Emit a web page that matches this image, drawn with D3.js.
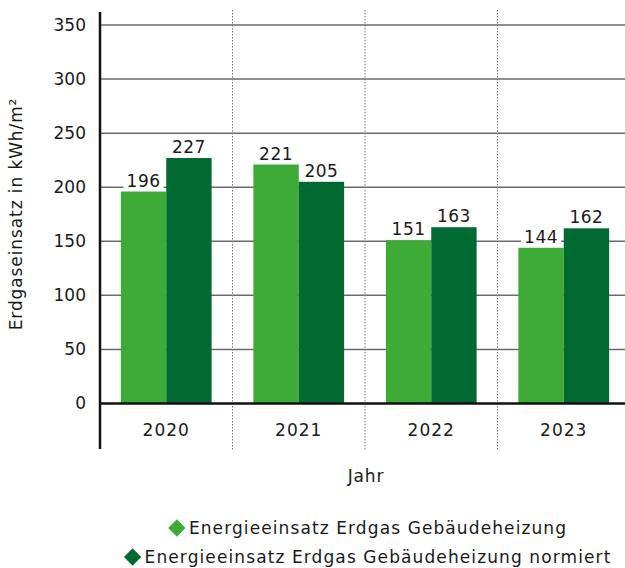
<!DOCTYPE html>
<html>
<head>
<meta charset="utf-8">
<script src="https://cdn.jsdelivr.net/npm/d3@7"></script>
<style>
  body { margin: 0; background: #fff; }
  text { font-family: "DejaVu Sans", sans-serif; fill: #1a1a1a; }
</style>
</head>
<body>
<div id="chart"></div>
<script>
const years = ["2020", "2021", "2022", "2023"];
const seriesNames = ["Energieeinsatz Erdgas Gebäudeheizung", "Energieeinsatz Erdgas Gebäudeheizung normiert"];
const gebaeudeheizung = [196, 221, 151, 144];
const normiert = [227, 205, 163, 162];
const yTicks = [0, 50, 100, 150, 200, 250, 300, 350];
const colors = ["#3dab36", "#016a31"];

const width = 625;
const height = 568;
const margin = { top: 25, right: -5, bottom: 164, left: 100 };

const svg = d3.select("#chart")
  .append("svg")
  .attr("width", width)
  .attr("height", height);

const x0 = d3.scaleBand()
  .domain(years)
  .range([margin.left, width - margin.right])
  .padding(0);

const x1 = d3.scaleBand()
  .domain([0, 1])
  .range([0, x0.bandwidth()])
  .paddingInner(0)
  .paddingOuter(0.46);

const y = d3.scaleLinear()
  .domain([0, 350])
  .range([height - margin.bottom - 0.5, margin.top]);

// gridlines
svg.append("g")
  .selectAll("line")
  .data(yTicks.filter(d => d > 0))
  .enter()
  .append("line")
  .attr("x1", margin.left)
  .attr("x2", width - margin.right)
  .attr("y1", d => y(d))
  .attr("y2", d => y(d))
  .attr("stroke", "#6b6b6b")
  .attr("stroke-width", 1.5);

// dotted separators
svg.append("g")
  .selectAll("line")
  .data(years.slice(1))
  .enter()
  .append("line")
  .attr("x1", d => x0(d))
  .attr("x2", d => x0(d))
  .attr("y1", 10)
  .attr("y2", 450)
  .attr("stroke", "#777")
  .attr("stroke-width", 1)
  .attr("stroke-dasharray", "1.5,1.5");

// bars
const data = years.map((yr, i) => ({ year: yr, values: [gebaeudeheizung[i], normiert[i]] }));
const groups = svg.append("g")
  .selectAll("g")
  .data(data)
  .enter()
  .append("g")
  .attr("transform", d => "translate(" + x0(d.year) + ",0)");

groups.selectAll("rect")
  .data(d => d.values.map((v, k) => ({ k: k, v: v })))
  .enter()
  .append("rect")
  .attr("x", d => x1(d.k))
  .attr("width", x1.bandwidth())
  .attr("y", d => y(d.v))
  .attr("height", d => y(0) - y(d.v))
  .attr("fill", d => colors[d.k]);

// value labels with white background
const labels = groups.selectAll("g.lbl")
  .data(d => d.values.map((v, k) => ({ k: k, v: v })))
  .enter()
  .append("g")
  .attr("class", "lbl")
  .attr("transform", d => "translate(" + (x1(d.k) + x1.bandwidth() / 2) + "," + (y(d.v) - 5) + ")");
labels.append("rect")
  .attr("x", -20)
  .attr("y", -18)
  .attr("width", 40)
  .attr("height", 20)
  .attr("fill", "#fff");
labels.append("text")
  .attr("text-anchor", "middle")
  .style("font-size", "17px")
  .style("letter-spacing", "0.5px")
  .text(d => d.v);

// zero baseline
svg.append("line")
  .attr("x1", margin.left)
  .attr("x2", width - margin.right)
  .attr("y1", y(0))
  .attr("y2", y(0))
  .attr("stroke", "#111")
  .attr("stroke-width", 2.5);

// y axis line
svg.append("line")
  .attr("x1", margin.left)
  .attr("x2", margin.left)
  .attr("y1", 12)
  .attr("y2", 449)
  .attr("stroke", "#111")
  .attr("stroke-width", 2.5);

// y tick labels
svg.append("g")
  .selectAll("text")
  .data(yTicks)
  .enter()
  .append("text")
  .attr("x", 86)
  .attr("y", d => y(d))
  .attr("dy", "0.35em")
  .attr("text-anchor", "end")
  .style("font-size", "17px")
  .text(d => d);

// x labels
svg.append("g")
  .selectAll("text")
  .data(years)
  .enter()
  .append("text")
  .attr("x", d => x0(d) + x0.bandwidth() / 2)
  .attr("y", 430)
  .attr("dy", "0.35em")
  .attr("text-anchor", "middle")
  .style("font-size", "17px")
  .style("letter-spacing", "1px")
  .text(d => d);

svg.append("text")
  .attr("x", 366)
  .attr("y", 476)
  .attr("dy", "0.35em")
  .attr("text-anchor", "middle")
  .style("font-size", "17px")
  .style("letter-spacing", "0.8px")
  .text("Jahr");

svg.append("text")
  .attr("transform", "translate(16,214) rotate(-90)")
  .attr("dy", "0.35em")
  .attr("text-anchor", "middle")
  .style("font-size", "17px")
  .style("letter-spacing", "0.9px")
  .text("Erdgaseinsatz in kWh/m²");

// legend
const legend = svg.append("g")
  .selectAll("g")
  .data(seriesNames)
  .enter()
  .append("g")
  .attr("transform", (d, i) => "translate(378," + (528 + i * 29) + ")");
legend.append("text")
  .attr("text-anchor", "middle")
  .attr("dy", "0.35em")
  .style("font-size", "17px")
  .style("letter-spacing", "1.1px")
  .text(d => d)
  .each(function (d, i) {
    const w = this.getComputedTextLength();
    d3.select(this.parentNode)
      .append("path")
      .attr("d", d3.symbol(d3.symbolDiamond2, 190)())
      .attr("transform", "translate(" + (-w / 2 - 12) + ",0)")
      .attr("fill", colors[i]);
  });
</script>
</body>
</html>
